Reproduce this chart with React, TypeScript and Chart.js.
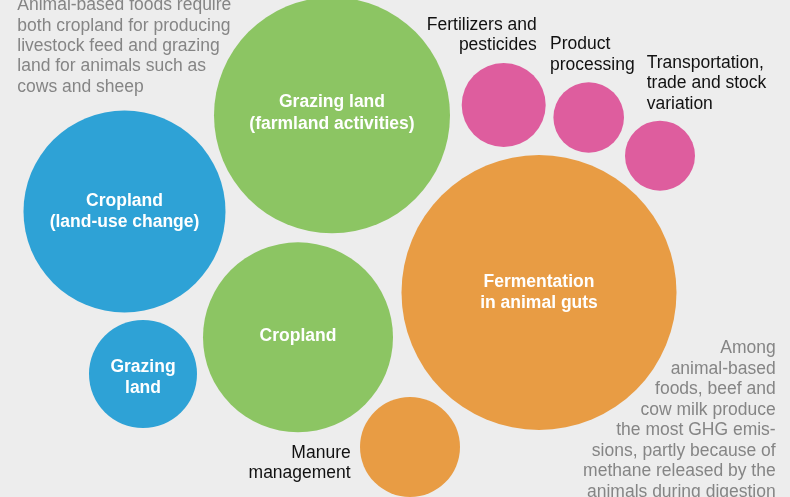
import React, { useEffect, useRef } from "react";
import { Chart, registerables } from "chart.js";

Chart.register(...registerables);

// Bubble data (chart units map 1:1 onto the 790 x 497 canvas)
const bubbleNames = [
  "Grazing land (farmland activities)",
  "Cropland (land-use change)",
  "Cropland",
  "Grazing land",
  "Fermentation in animal guts",
  "Manure management",
  "Fertilizers and pesticides",
  "Product processing",
  "Transportation, trade and stock variation",
];
const bubbleX = [332, 124.5, 298, 143, 539, 410, 503.7, 588.7, 660];
const bubbleY = [115.3, 211.5, 337.3, 374, 292.5, 447, 105, 117.5, 155.7];
const bubbleR = [118, 101, 95, 54, 137.5, 50, 42, 35.3, 35];
const bubbleGroup = ["green", "blue", "green", "blue", "orange", "orange", "pink", "pink", "pink"];

const groupColors: Record<string, string> = {
  green: "#8cc563",
  blue: "#2ea2d6",
  orange: "#e89c44",
  pink: "#de5d9e",
};

// Labels drawn inside bubbles (white, bold)
const insideLabels: string[][] = [
  ["Grazing land", "(farmland activities)"],
  ["Cropland", "(land-use change)"],
  ["Cropland"],
  ["Grazing", "land"],
  ["Fermentation", "in animal guts"],
  [],
  [],
  [],
  [],
];
const insideLabelShift = [-2.3, 0.4, -1.6, 3.5, 0, 0, 0, 0, 0];

// Labels outside bubbles
const outsideLabels: { lines: string[]; x: number; y: number; align: CanvasTextAlign; color: string }[] = [
  { lines: ["Fertilizers and", "pesticides"], x: 536.7, y: 25, align: "right", color: "#111111" },
  { lines: ["Product", "processing"], x: 550, y: 44.3, align: "left", color: "#111111" },
  { lines: ["Transportation,", "trade and stock", "variation"], x: 646.7, y: 62.7, align: "left", color: "#111111" },
  { lines: ["Manure", "management"], x: 350.7, y: 452.7, align: "right", color: "#111111" },
];

const noteTopLeft = [
  "Animal-based foods require",
  "both cropland for producing",
  "livestock feed and grazing",
  "land for animals such as",
  "cows and sheep",
];
const noteBottomRight = [
  "Among",
  "animal-based",
  "foods, beef and",
  "cow milk produce",
  "the most GHG emis-",
  "sions, partly because of",
  "methane released by the",
  "animals during digestion",
];

const FONT = '"Liberation Sans", Arial, sans-serif';

const labelPlugin = {
  id: "labelPlugin",
  beforeDraw(chart: any) {
    const ctx = chart.ctx;
    ctx.save();
    ctx.fillStyle = "#ededed";
    ctx.fillRect(0, 0, chart.width, chart.height);
    ctx.restore();
  },
  afterDatasetsDraw(chart: any) {
    const ctx = chart.ctx;
    const meta = chart.getDatasetMeta(0);
    ctx.save();
    ctx.textBaseline = "middle";
    // inside labels
    ctx.font = `bold 17.5px ${FONT}`;
    ctx.fillStyle = "#ffffff";
    ctx.textAlign = "center";
    const lh = 21.5;
    meta.data.forEach((el: any, i: number) => {
      const lines = insideLabels[i];
      if (!lines || !lines.length) return;
      const y0 = el.y + insideLabelShift[i] - ((lines.length - 1) * lh) / 2;
      lines.forEach((t, k) => ctx.fillText(t, el.x, y0 + k * lh));
    });
    // outside labels
    ctx.font = `17.5px ${FONT}`;
    outsideLabels.forEach((l) => {
      ctx.fillStyle = l.color;
      ctx.textAlign = l.align;
      l.lines.forEach((t, k) => ctx.fillText(t, l.x, l.y + k * 20.6));
    });
    // notes
    ctx.fillStyle = "#858585";
    ctx.textAlign = "left";
    noteTopLeft.forEach((t, k) => ctx.fillText(t, 17.3, 5.3 + k * 20.4));
    ctx.textAlign = "right";
    noteBottomRight.forEach((t, k) => ctx.fillText(t, 775.7, 348.3 + k * 20.5));
    ctx.restore();
  },
};

export default function App() {
  const ref = useRef<HTMLCanvasElement>(null);
  useEffect(() => {
    document.body.style.margin = "0";
    const canvas = ref.current!;
    const chart = new Chart(canvas, {
      type: "bubble",
      data: {
        labels: bubbleNames,
        datasets: [
          {
            label: "Emissions",
            data: bubbleX.map((x, i) => ({ x, y: bubbleY[i], r: bubbleR[i] })),
            backgroundColor: bubbleGroup.map((g) => groupColors[g]),
            borderWidth: 0,
            hoverBorderWidth: 0,
            clip: false as any,
          },
        ],
      },
      options: {
        responsive: false,
        animation: false,
        events: [],
        layout: { padding: 0, autoPadding: false } as any,
        plugins: { legend: { display: false }, tooltip: { enabled: false } },
        scales: {
          x: { type: "linear", min: 0, max: 790, display: false },
          y: { type: "linear", min: 0, max: 497, reverse: true, display: false },
        },
      },
      plugins: [labelPlugin],
    });
    return () => chart.destroy();
  }, []);
  return <canvas ref={ref} width={790} height={497} style={{ display: "block" }} />;
}
